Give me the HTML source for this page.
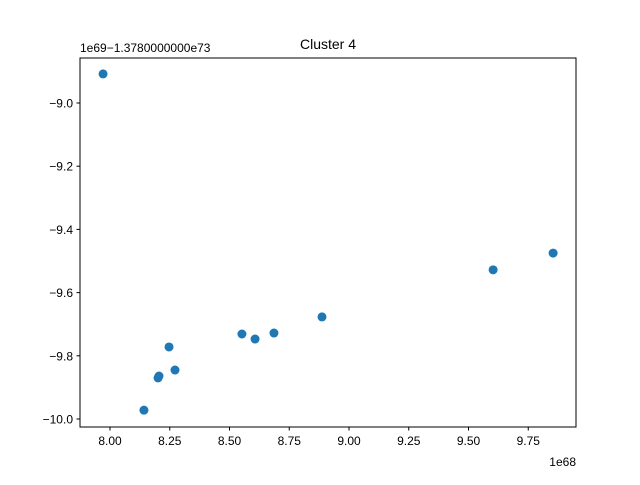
<!DOCTYPE html>
<html><head><meta charset="utf-8"><style>
body{margin:0;background:#fff;}
svg text{font-family:"Liberation Sans","DejaVu Sans",sans-serif;}
</style></head><body>
<svg id="chart" width="640" height="480" xmlns="http://www.w3.org/2000/svg">
<rect width="640" height="480" fill="#fff"/>
<text x="328" y="49" font-size="14" text-anchor="middle">Cluster 4</text>
<g id="xt"></g>
<g id="yt"></g>
<g id="pts"></g>
<rect x="80" y="58" width="496" height="369" fill="none" stroke="#000" stroke-width="1"/>
<text x="80" y="52" font-size="12">1e69−1.3780000000e73</text>
<text x="576" y="466" font-size="12" text-anchor="end">1e68</text>
</svg>
<script>
const xVals=[7.971,8.142,8.201,8.205,8.247,8.272,8.552,8.607,8.686,8.887,9.603,9.854];
const yVals=[-8.908,-9.972,-9.870,-9.864,-9.772,-9.845,-9.731,-9.747,-9.728,-9.677,-9.528,-9.475];
const xTicks=[8.00,8.25,8.50,8.75,9.00,9.25,9.50,9.75];
const yTicks=[-9.0,-9.2,-9.4,-9.6,-9.8,-10.0];
const NS="http://www.w3.org/2000/svg";
function sx(v){return 110+(v-8)*239;}
function sy(v){return 103+(-9-v)*316;}
function mk(t,a,p){const e=document.createElementNS(NS,t);for(const k in a)e.setAttribute(k,a[k]);p.appendChild(e);return e;}
const xt=document.getElementById('xt'),yt=document.getElementById('yt'),pts=document.getElementById('pts');
xTicks.forEach(v=>{const x=sx(v);
const l=mk('line',{x1:x,x2:x,y1:427,y2:430.5,stroke:'#000'},xt);


const t=mk('text',{x:x,y:445,'font-size':12,'text-anchor':'middle'},xt);t.textContent=v.toFixed(2);

});
yTicks.forEach(v=>{const y=sy(v);
const l=mk('line',{x1:76.5,x2:80,y1:y,y2:y,stroke:'#000'},yt);


const t=mk('text',{x:73,y:y+4.5,'font-size':12,'text-anchor':'end'},yt);t.textContent='−'+Math.abs(v).toFixed(1);

});
xVals.forEach((v,i)=>{const c=mk('circle',{cx:sx(v),cy:sy(yVals[i]),r:4.5,fill:'#1f77b4'},pts);

});
</script>
</body></html>
